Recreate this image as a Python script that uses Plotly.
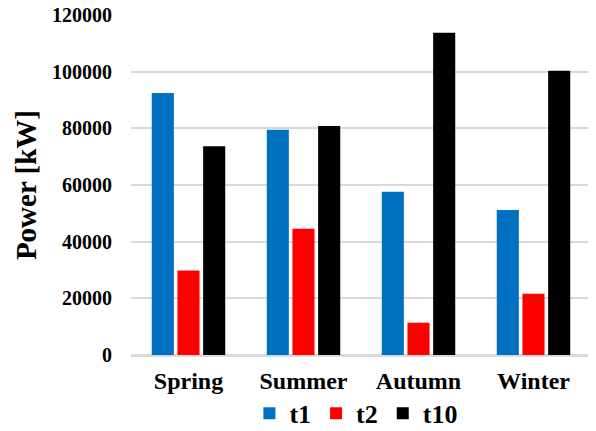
import plotly.graph_objects as go

seasons = ["Spring", "Summer", "Autumn", "Winter"]
t1 = [92500, 79500, 57600, 51200]
t2 = [29800, 44600, 11400, 21600]
t10 = [73700, 80800, 113700, 100300]
y_ticks = [0, 20000, 40000, 60000, 80000, 100000, 120000]

font_family = "Liberation Serif, Times New Roman, serif"

fig = go.Figure()
for name, vals, col in [("t1", t1, "#0070C0"), ("t2", t2, "#FF0000"), ("t10", t10, "#000000")]:
    fig.add_trace(go.Bar(x=seasons, y=vals, name="<b>%s</b>" % name,
                         marker=dict(color=col, line=dict(width=0))))

# page body has an 8px margin, so the figure is sized 588x423
fig.update_layout(
    width=588, height=423,
    margin=dict(l=123, r=5, t=7, b=76),
    paper_bgcolor="white", plot_bgcolor="white",
    barmode="group", bargap=0.33, bargroupgap=0.14,
    font=dict(family=font_family, color="black"),
    legend=dict(orientation="h", x=0.49, xanchor="center", yref="container", y=0.042, yanchor="middle",
                bgcolor="rgba(0,0,0,0)",
                font=dict(size=26, family=font_family), itemwidth=30, traceorder="normal"),
    showlegend=True,
    annotations=[dict(text="<b>Power [kW]</b>", xref="paper", yref="paper", x=-0.228, y=0.5,
                      xanchor="center", yanchor="middle", textangle=-90, showarrow=False,
                      font=dict(size=29, family=font_family))],
)
fig.update_xaxes(
    showgrid=False, showline=False, ticks="", automargin=False,
    tickvals=seasons, ticktext=["<b>%s</b>" % s for s in seasons],
    tickfont=dict(size=24, family=font_family), ticklabelstandoff=9,
)
fig.update_yaxes(
    range=[0, 120000], tickvals=y_ticks, ticktext=["<b>%d</b>" % v for v in y_ticks],
    showgrid=True, gridcolor="#D9D9D9", gridwidth=1.5,
    zeroline=True, zerolinecolor="#D9D9D9", zerolinewidth=2.5,
    showline=False, ticks="", ticklabelstandoff=18, automargin=False,
    ticklabeloverflow="allow",
    tickfont=dict(size=20, family=font_family),
)

fig.write_html("out.html")
